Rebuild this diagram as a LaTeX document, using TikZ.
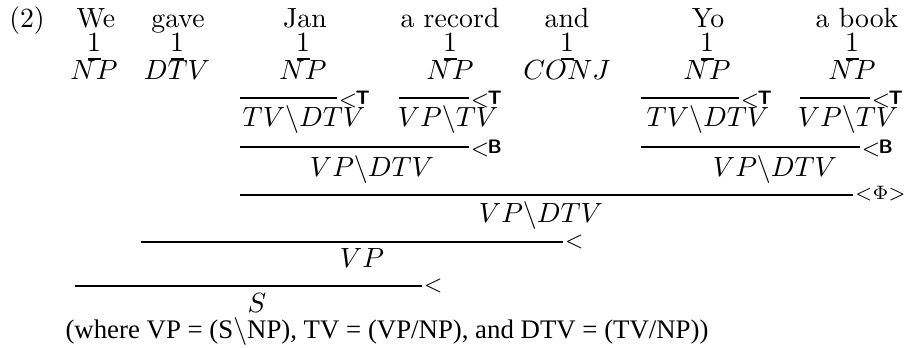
\documentclass[tikz,border=0pt]{standalone}
\usepackage{amsmath}
\usepackage{amssymb}
\usepackage{fontspec}
\newfontfamily\notefont{Liberation Serif}
\usepackage{tikz}

\newcommand{\rlab}[1]{{\footnotesize$<$}\kern-0.6pt\raisebox{0.9pt}{\scriptsize\sffamily\bfseries #1}}

\tikzset{
  word/.style={anchor=base, inner sep=0pt},
  cat/.style={anchor=base, inner sep=0pt},
  rul/.style={line width=0.75pt},
  lab/.style={anchor=base west, inner sep=0pt, xshift=0.3pt, yshift=-3.2pt},
  labc/.style={anchor=base west, inner sep=0pt, xshift=0.4pt, yshift=-2pt, font=\footnotesize},
}

\begin{document}
\begin{tikzpicture}[x=0.36pt,y=-0.36pt]
  \useasboundingbox (0,0) rectangle (906,348);
  \node[word] (ex) at (27,28) {(2)};

  % lexical entries
  \foreach \n/\wx/\w/\cx/\c in {1/96/We/94/NP, 2/178/gave/177/DTV, 3/305/Jan/303/NP,
      4/450/a record/450/NP, 5/567/and/567/CONJ, 6/708/Yo/707/NP, 7/857/a book/852/NP}
  {
    \node[word] (w\n) at (\wx,28) {\w};
    \node[word] (one\n) at (\cx,52) {1};
    \draw[rul] (\cx-6.5,59) -- (\cx+6.5,59);
    \node[cat] (c\n) at (\cx,80) {$\c$};
  }

  % type raising
  \draw[rul] (240,98) -- (337,98) node[lab] {\rlab{T}};
  \node[cat] (t1) at (304,127) {$TV\backslash DTV$};
  \draw[rul] (399,98) -- (469,98) node[lab] {\rlab{T}};
  \node[cat] (t2) at (448,127) {$VP\backslash TV$};
  \draw[rul] (641,98) -- (739,98) node[lab] {\rlab{T}};
  \node[cat] (t3) at (708,127) {$TV\backslash DTV$};
  \draw[rul] (800,98) -- (870,98) node[lab] {\rlab{T}};
  \node[cat] (t4) at (848,127) {$VP\backslash TV$};

  % composition
  \draw[rul] (240,147) -- (469,147) node[lab] {\rlab{B}};
  \node[cat] (b1) at (372,177) {$VP\backslash DTV$};
  \draw[rul] (641,147) -- (860,147) node[lab] {\rlab{B}};
  \node[cat] (b2) at (775,177) {$VP\backslash DTV$};

  % coordination
  \draw[rul] (240,195) -- (853,195)
    node[anchor=base west, inner sep=0pt, xshift=0.4pt, yshift=-1.75pt, font=\scriptsize] {${<}\Phi{>}$};
  \node[cat] (co) at (541,223) {$VP\backslash DTV$};

  % application
  \draw[rul] (141,242) -- (563,242) node[labc] {$<$};
  \node[cat] (vp) at (362,268) {$VP$};
  \draw[rul] (75,286) -- (422,286) node[labc] {$<$};
  \node[cat] (s) at (257,312) {$S$};

  \node[anchor=base west, inner sep=0pt, font=\notefont\fontsize{9.65}{11}\selectfont] (note) at (65,338)
    {(where VP = (S$\backslash$NP), TV = (VP/NP), and DTV = (TV/NP))};
\end{tikzpicture}
\end{document}
